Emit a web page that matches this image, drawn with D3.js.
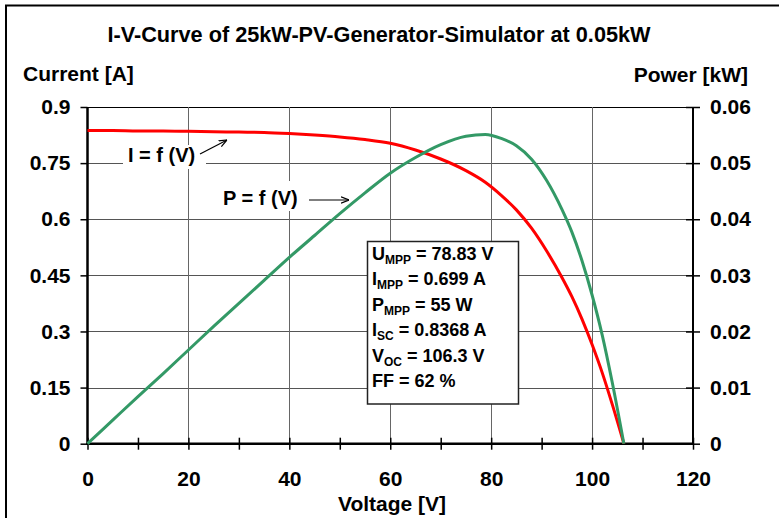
<!DOCTYPE html>
<html>
<head>
<meta charset="utf-8">
<script src="https://cdn.jsdelivr.net/npm/d3@7"></script>
<style>
  body { margin: 0; background: #fff; }
  svg { display: block; font-family: Arial, "Liberation Sans", sans-serif; font-weight: bold; }
</style>
</head>
<body>
<div id="chart"></div>
<script>
var voltage = [0, 5, 10, 15, 20, 25, 30, 35, 40, 45, 50, 55, 60, 65, 70, 75, 78.83, 82, 85, 88, 91, 94, 96, 98, 100, 102, 104, 106.3];
var current = [0.837, 0.837, 0.836, 0.836, 0.835, 0.834, 0.833, 0.832, 0.829, 0.825, 0.820, 0.813, 0.803, 0.785, 0.761, 0.730, 0.699, 0.664, 0.625, 0.576, 0.515, 0.445, 0.393, 0.333, 0.265, 0.19, 0.105, 0];
var power = [0, 0.0042, 0.0084, 0.0125, 0.0167, 0.0209, 0.0250, 0.0291, 0.0332, 0.0371, 0.0410, 0.0447, 0.0482, 0.0510, 0.0533, 0.0548, 0.0551, 0.0544, 0.0531, 0.0507, 0.0469, 0.0418, 0.0377, 0.0326, 0.0265, 0.0194, 0.0109, 0];

var xTicks = [0, 10, 20, 30, 40, 50, 60, 70, 80, 90, 100, 110, 120];
var currentTicks = [0, 0.15, 0.3, 0.45, 0.6, 0.75, 0.9];
var powerTicks = [0, 0.01, 0.02, 0.03, 0.04, 0.05, 0.06];

var mppLines = [
  ["U", "MPP", " = 78.83 V"],
  ["I", "MPP", " = 0.699 A"],
  ["P", "MPP", " = 55 W"],
  ["I", "SC", " = 0.8368 A"],
  ["V", "OC", " = 106.3 V"],
  ["FF", "", " = 62 %"]
];

draw_chart = function (targetId) {
  var W = 779, H = 518;
  var plotLeft = 87.5, plotRight = 693, plotTop = 107, plotBottom = 443.7;
  var fontSize = 21;

  var svg = d3.select(targetId).append("svg")
      .attr("width", W)
      .attr("height", H);

  // outer frame (only top and left edges are visible)
  svg.append("path")
      .attr("d", "M6,518V5.5H779")
      .attr("fill", "none")
      .attr("stroke", "#000")
      .attr("stroke-width", 2);

  var x = d3.scaleLinear().domain([0, 120]).range([plotLeft, plotRight]);
  var yI = d3.scaleLinear().domain([0, 0.9]).range([plotBottom, plotTop]);
  var yP = d3.scaleLinear().domain([0, 0.06]).range([plotBottom, plotTop]);

  // grid
  svg.append("g").selectAll("line")
      .data(currentTicks.slice(1))
      .enter().append("line")
      .attr("x1", plotLeft).attr("x2", plotRight)
      .attr("y1", (d) => Math.round(yI(d)) + 0.5)
      .attr("y2", (d) => Math.round(yI(d)) + 0.5)
      .attr("stroke", (d) => d == 0.9 ? "#000" : "#555")
      .attr("stroke-width", 1);

  svg.append("g").selectAll("line")
      .data([20, 40, 60, 80, 100])
      .enter().append("line")
      .attr("x1", (d) => Math.round(x(d)) + 0.5)
      .attr("x2", (d) => Math.round(x(d)) + 0.5)
      .attr("y1", plotTop).attr("y2", plotBottom)
      .attr("stroke", "#666")
      .attr("stroke-width", 1);

  // axes
  var gx = svg.append("g")
      .attr("transform", "translate(0," + plotBottom + ")")
      .call(d3.axisBottom(x).tickValues(xTicks).tickSize(6)
          .tickFormat((d) => d % 20 == 0 ? d : ""));
  gx.selectAll(".tick line").attr("y1", -6).attr("y2", 6).attr("stroke-width", 1.5);
  gx.selectAll(".tick text").attr("y", 27).attr("dy", "0.71em");

  var gl = svg.append("g")
      .attr("transform", "translate(" + plotLeft + ",0)")
      .call(d3.axisLeft(yI).tickValues(currentTicks).tickSize(7).tickPadding(10)
          .tickFormat((d) => d));
  gl.selectAll(".tick line").attr("stroke-width", 1.5);

  var gr = svg.append("g")
      .attr("transform", "translate(" + plotRight + ",0)")
      .call(d3.axisRight(yP).tickValues(powerTicks).tickSize(7).tickPadding(10)
          .tickFormat((d) => d));
  gr.selectAll(".tick line").attr("x1", -7).attr("x2", 7).attr("stroke-width", 1.5);

  [gx, gl, gr].forEach(function (g) {
    g.select(".domain").remove();
    g.selectAll("text")
        .attr("font-family", "Arial, 'Liberation Sans', sans-serif")
        .attr("font-size", fontSize)
        .attr("font-weight", "bold")
        .attr("fill", "#000");
  });

  // axis lines
  svg.append("line").attr("x1", plotLeft).attr("x2", plotLeft).attr("y1", plotTop).attr("y2", plotBottom + 1)
      .attr("stroke", "#000").attr("stroke-width", 2.5);
  svg.append("line").attr("x1", plotRight).attr("x2", plotRight).attr("y1", plotTop).attr("y2", plotBottom + 1)
      .attr("stroke", "#000").attr("stroke-width", 2);
  svg.append("line").attr("x1", plotLeft - 1).attr("x2", plotRight + 1).attr("y1", plotBottom).attr("y2", plotBottom)
      .attr("stroke", "#000").attr("stroke-width", 2.5);

  // curves
  var rows = voltage.map((v, i) => ({ v: v, i: current[i], p: power[i] }));

  var lineI = d3.line().x((d) => x(d.v)).y((d) => yI(d.i)).curve(d3.curveMonotoneX);
  var lineP = d3.line().x((d) => x(d.v)).y((d) => yP(d.p)).curve(d3.curveMonotoneX);

  svg.append("path")
      .datum(rows)
      .attr("d", lineI)
      .attr("fill", "none")
      .attr("stroke", "#ff0000")
      .attr("stroke-width", 3);

  svg.append("path")
      .datum(rows)
      .attr("d", lineP)
      .attr("fill", "none")
      .attr("stroke", "#339966")
      .attr("stroke-width", 3);

  // titles
  svg.append("text")
      .attr("x", 379).attr("y", 42)
      .attr("text-anchor", "middle")
      .attr("font-size", 21.7)
      .text("I-V-Curve of 25kW-PV-Generator-Simulator at 0.05kW");

  svg.append("text")
      .attr("x", 23).attr("y", 81)
      .attr("font-size", fontSize)
      .text("Current [A]");

  svg.append("text")
      .attr("x", 748).attr("y", 81.5)
      .attr("text-anchor", "end")
      .attr("font-size", fontSize)
      .text("Power [kW]");

  svg.append("text")
      .attr("x", 392).attr("y", 511)
      .attr("text-anchor", "middle")
      .attr("font-size", fontSize)
      .text("Voltage [V]");

  // curve labels with arrows
  svg.append("defs").append("marker")
      .attr("id", "arrow")
      .attr("viewBox", "0 0 10 10")
      .attr("refX", 10).attr("refY", 5)
      .attr("markerWidth", 8).attr("markerHeight", 8)
      .attr("markerUnits", "userSpaceOnUse")
      .attr("orient", "auto")
      .append("path")
      .attr("d", "M0,1L10,5L0,9")
      .attr("fill", "none")
      .attr("stroke", "#000")
      .attr("stroke-width", 1.5);

  svg.append("rect").attr("x", 123).attr("y", 145).attr("width", 83).attr("height", 24).attr("fill", "#fff");
  svg.append("text").attr("x", 128).attr("y", 161.7).attr("font-size", 20).text("I = f (V)");
  svg.append("line").attr("x1", 200).attr("y1", 154).attr("x2", 227).attr("y2", 140)
      .attr("stroke", "#000").attr("stroke-width", 1.2).attr("marker-end", "url(#arrow)");

  svg.append("rect").attr("x", 218).attr("y", 181).attr("width", 82).attr("height", 30).attr("fill", "#fff");
  svg.append("text").attr("x", 223).attr("y", 205).attr("font-size", 20).text("P = f (V)");
  svg.append("line").attr("x1", 309).attr("y1", 200).attr("x2", 349).attr("y2", 200)
      .attr("stroke", "#000").attr("stroke-width", 1.2).attr("marker-end", "url(#arrow)");

  // MPP info box
  var box = svg.append("g");
  box.append("rect")
      .attr("x", 367.5).attr("y", 241.5)
      .attr("width", 151).attr("height", 162.5)
      .attr("fill", "#fff")
      .attr("stroke", "#222")
      .attr("stroke-width", 1.5);

  var info = box.selectAll("text")
      .data(mppLines)
      .enter().append("text")
      .attr("x", 372)
      .attr("y", (d, i) => 260 + i * 25.4)
      .attr("font-size", 18);

  info.append("tspan").text((d) => d[0]);
  info.filter((d) => d[1] != "").append("tspan")
      .attr("font-size", 12)
      .attr("dy", 4)
      .text((d) => d[1]);
  info.append("tspan")
      .attr("dy", (d) => d[1] != "" ? -4 : 0)
      .text((d) => d[2]);
}

draw_chart("#chart");
</script>
</body>
</html>
